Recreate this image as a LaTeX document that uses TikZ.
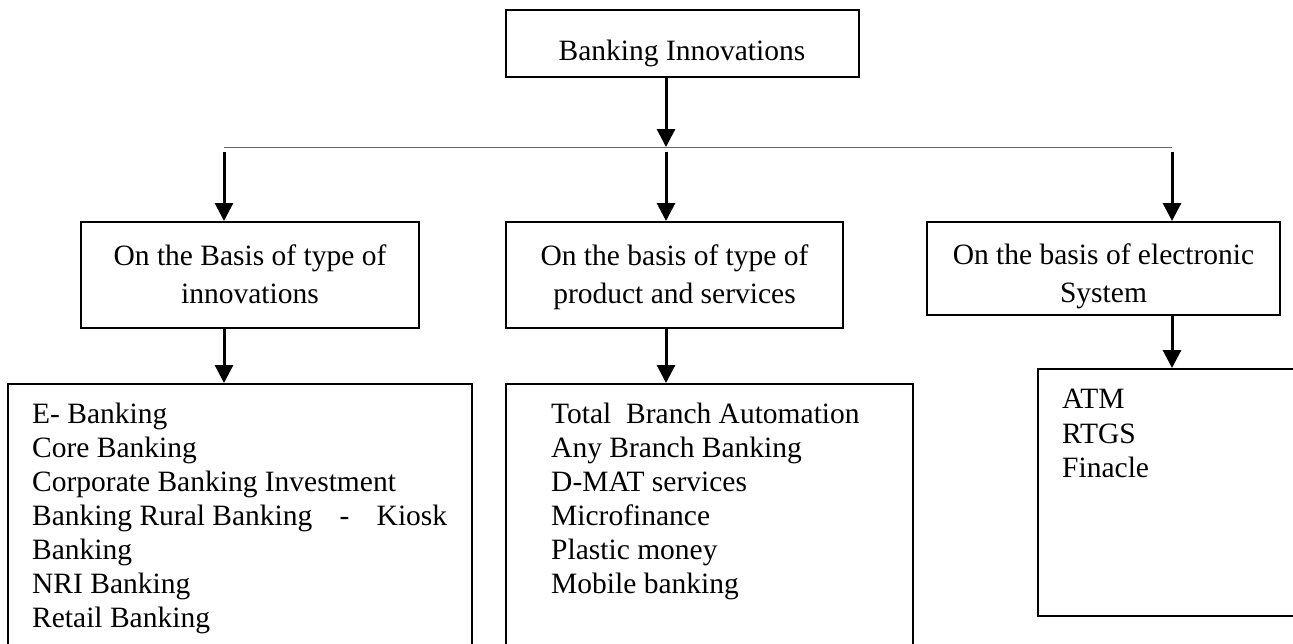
\documentclass[tikz,border=0pt]{standalone}
\usepackage{fontspec}
\setmainfont{Liberation Serif}
\usetikzlibrary{arrows.meta}
\tikzset{
  boxnode/.style={draw=black, line width=2pt, rectangle, inner sep=0pt, fill=none},
  lbl/.style={inner sep=0pt, align=center, font=\fontsize{29.5}{37.5}\selectfont},
  listtext/.style={inner sep=0pt, align=left, anchor=north west, font=\fontsize{29.5}{34}\selectfont},
  arr/.style={line width=3pt, -{Triangle[length=18pt,width=18pt]}},
  bar/.style={line width=1pt, draw=black!60}
}
\begin{document}
\begin{tikzpicture}[x=1pt,y=-1pt]
\clip (0,0) rectangle (1293,643);
\fill[white] (0,0) rectangle (1293,643);

% top box
\node[boxnode, minimum width=353pt, minimum height=67pt] (top) at (682.5,43.5) {};
\node[lbl, anchor=base] (toptext) at (682,60) {Banking Innovations};

% level 2 boxes
\node[boxnode, minimum width=338pt, minimum height=106pt] (l1) at (250,275) {};
\node[lbl, anchor=north] (l1t) at (250,239.2) {\strut On the Basis of type of\\innovations};
\node[boxnode, minimum width=337pt, minimum height=106pt] (l2) at (674.5,275) {};
\node[lbl, anchor=north] (l2t) at (674.5,239.2) {\strut On the basis of type of\\product and services};
\node[boxnode, minimum width=353pt, minimum height=93pt] (l3) at (1103.5,268.5) {};
\node[lbl, anchor=north] (l3t) at (1103.5,238.2) {\strut On the basis of electronic\\System};

% bottom boxes
\node[boxnode, minimum width=464pt, minimum height=276pt] (b1) at (240,522) {};
\node[listtext] (b1t) at (32,399.2) {\strut E- Banking\\Core Banking\\Corporate Banking Investment\\\makebox[415pt][l]{Banking Rural Banking\hfill-\hfill Kiosk}\\Banking\\NRI Banking\\Retail Banking};
\node[boxnode, minimum width=407pt, minimum height=276pt] (b2) at (709.5,522) {};
\node[listtext] (b2t) at (551,399.2) {\strut Total~ Branch Automation\\Any Branch Banking\\D-MAT services\\Microfinance\\Plastic money\\Mobile banking};
\node[boxnode, minimum width=280pt, minimum height=247pt] (b3) at (1178,492.5) {};
\node[listtext, font=\fontsize{29.5}{34.5}\selectfont] (b3t) at (1062,384.2) {\strut ATM\\RTGS\\Finacle};

% connectors
\coordinate (j) at (666,147);
\coordinate (jl) at (224,147);
\coordinate (jr) at (1172,147);
\coordinate (sl) at (224,152);
\coordinate (sm) at (666,152);
\coordinate (sr) at (1172,152);

\draw[bar] (jl) -- (jr);
\draw[arr] (top.south -| j) -- (j);
\draw[arr] (sl) -- (l1.north -| sl);
\draw[arr] (sm) -- (l2.north -| sm);
\draw[arr] (sr) -- (l3.north -| sr);
\draw[arr] (l1.south -| sl) -- (b1.north -| sl);
\draw[arr] (l2.south -| sm) -- (b2.north -| sm);
\draw[arr] (l3.south -| sr) -- (b3.north -| sr);
\end{tikzpicture}
\end{document}
